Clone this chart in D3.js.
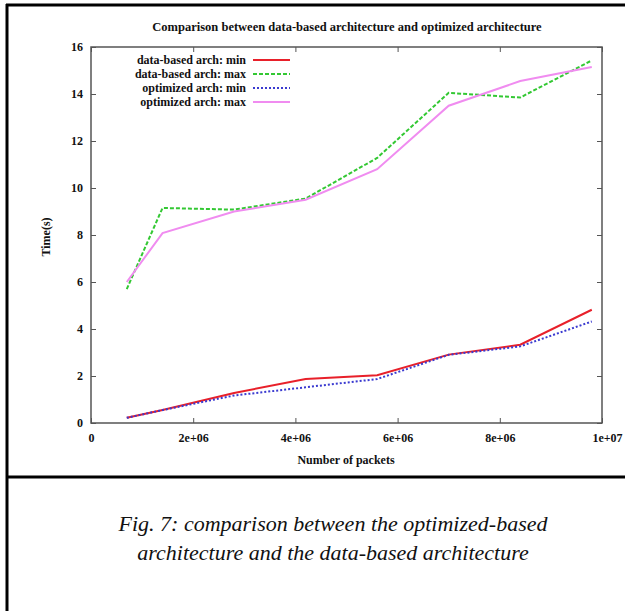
<!DOCTYPE html>
<html>
<head>
<meta charset="utf-8">
<script src="https://cdn.jsdelivr.net/npm/d3@7"></script>
<style>
  body { margin: 0; background: #fff; }
  svg { display: block; }
</style>
</head>
<body>
<div id="chart"></div>
<script>
// packets sent (x) and time in seconds for each series
const packets = [0.7e6, 1.4e6, 2.8e6, 4.2e6, 5.6e6, 7.0e6, 8.4e6, 9.8e6];
const dataMin = [0.22, 0.55, 1.28, 1.87, 2.03, 2.91, 3.33, 4.82];
const dataMax = [5.7, 9.15, 9.08, 9.55, 11.28, 14.05, 13.85, 15.43];
const optMin = [0.22, 0.55, 1.17, 1.52, 1.87, 2.9, 3.26, 4.32];
const optMax = [6.0, 8.08, 9.0, 9.5, 10.8, 13.5, 14.55, 15.15];

const seriesNames = ["data-based arch: min", "data-based arch: max", "optimized arch: min", "optimized arch: max"];
const xTicks = [0, 2e6, 4e6, 6e6, 8e6, 1e7];
const yTicks = [0, 2, 4, 6, 8, 10, 12, 14, 16];

const series = [
    { name: seriesNames[0], values: dataMin, color: "#e8202a", dash: null, width: 2 },
    { name: seriesNames[1], values: dataMax, color: "#33c833", dash: "4,2", width: 2 },
    { name: seriesNames[2], values: optMin, color: "#3a3ad0", dash: "2,2", width: 2 },
    { name: seriesNames[3], values: optMax, color: "#f08cf0", dash: null, width: 2 }
];

const width = 625, height = 611;
const serif = "'Liberation Serif', 'Times New Roman', serif";

const svg = d3.select("#chart").append("svg")
    .attr("width", width)
    .attr("height", height);

// outer figure frame
svg.append("line").attr("x1", 7).attr("x2", 7).attr("y1", 4).attr("y2", height)
    .attr("stroke", "#000").attr("stroke-width", 3);
svg.append("line").attr("x1", 6).attr("x2", width).attr("y1", 5).attr("y2", 5)
    .attr("stroke", "#000").attr("stroke-width", 3);
svg.append("line").attr("x1", 6).attr("x2", width).attr("y1", 477).attr("y2", 477)
    .attr("stroke", "#000").attr("stroke-width", 3);

const x = d3.scaleLinear().domain([0, 1e7]).range([91, 602]);
const y = d3.scaleLinear().domain([0, 16]).range([423, 47]);

// gnuplot style tick labels
const fmtX = d => d === 0 ? "0" : d3.format(".0e")(d).replace(/e\+(\d)$/, "e+0$1");

const tickFont = g => g.selectAll("text")
    .attr("font-family", serif)
    .attr("font-weight", "bold")
    .attr("font-size", "12px")
    .attr("fill", "#111");

const styleTicks = g => {
    g.select(".domain").remove();
    g.selectAll("line").attr("stroke", "#555").attr("stroke-width", 1);
};

const xAxis = svg.append("g")
    .attr("transform", `translate(0,${y(0)})`)
    .call(d3.axisBottom(x).tickValues(xTicks).tickSize(-5).tickPadding(10).tickFormat(fmtX))
    .call(styleTicks).call(tickFont);

// last label sits a bit right of its tick, against the page edge
xAxis.selectAll(".tick").filter(d => d === 1e7).select("text")
    .attr("dx", 5);

svg.append("g")
    .attr("transform", `translate(0,${y(16)})`)
    .call(d3.axisTop(x).tickValues(xTicks).tickSize(-5).tickFormat(""))
    .call(styleTicks);

svg.append("g")
    .attr("transform", `translate(${x(0)},0)`)
    .call(d3.axisLeft(y).tickValues(yTicks).tickSize(-5).tickPadding(8))
    .call(styleTicks).call(tickFont);

svg.append("g")
    .attr("transform", `translate(${x(1e7)},0)`)
    .call(d3.axisRight(y).tickValues(yTicks).tickSize(-5).tickFormat(""))
    .call(styleTicks);

// plot frame
svg.append("rect")
    .attr("x", x(0)).attr("y", y(16))
    .attr("width", x(1e7) - x(0)).attr("height", y(0) - y(16))
    .attr("fill", "none").attr("stroke", "#555").attr("stroke-width", 1.5);

// lines
const line = d3.line()
    .x((d, i) => x(packets[i]))
    .y(d => y(d));

series.forEach(s => {
    svg.append("path")
        .datum(s.values)
        .attr("d", line)
        .attr("fill", "none")
        .attr("stroke", s.color)
        .attr("stroke-width", s.width)
        .attr("stroke-dasharray", s.dash);
});

// legend
const legend = svg.append("g");
series.forEach((s, i) => {
    const ly = 60 + i * 14;
    legend.append("text")
        .attr("x", 246).attr("y", ly)
        .attr("dy", "0.35em")
        .attr("text-anchor", "end")
        .attr("font-family", serif)
        .attr("font-weight", "bold")
        .attr("font-size", "12px")
        .attr("fill", "#111")
        .text(s.name);
    legend.append("line")
        .attr("x1", 253).attr("x2", 290)
        .attr("y1", ly).attr("y2", ly)
        .attr("stroke", s.color)
        .attr("stroke-width", s.width)
        .attr("stroke-dasharray", s.dash);
});

// titles
svg.append("text")
    .attr("x", 347).attr("y", 31)
    .attr("text-anchor", "middle")
    .attr("font-family", serif)
    .attr("font-weight", "bold")
    .attr("font-size", "12.5px")
    .attr("fill", "#111")
    .text("Comparison between data-based architecture and optimized architecture");

svg.append("text")
    .attr("x", 346).attr("y", 464)
    .attr("text-anchor", "middle")
    .attr("font-family", serif)
    .attr("font-weight", "bold")
    .attr("font-size", "12px")
    .attr("fill", "#111")
    .text("Number of packets");

svg.append("text")
    .attr("transform", "translate(50,237) rotate(-90)")
    .attr("text-anchor", "middle")
    .attr("font-family", serif)
    .attr("font-weight", "bold")
    .attr("font-size", "12px")
    .attr("fill", "#111")
    .text("Time(s)");

// caption
const caption = ["Fig. 7: comparison between the optimized-based",
                 "architecture and the data-based architecture"];
svg.selectAll("text.caption")
    .data(caption)
    .enter().append("text")
    .attr("class", "caption")
    .attr("x", 333)
    .attr("y", (d, i) => 531 + i * 29)
    .attr("text-anchor", "middle")
    .attr("font-family", serif)
    .attr("font-style", "italic")
    .attr("font-size", "22px")
    .attr("fill", "#111")
    .text(d => d);
</script>
</body>
</html>
